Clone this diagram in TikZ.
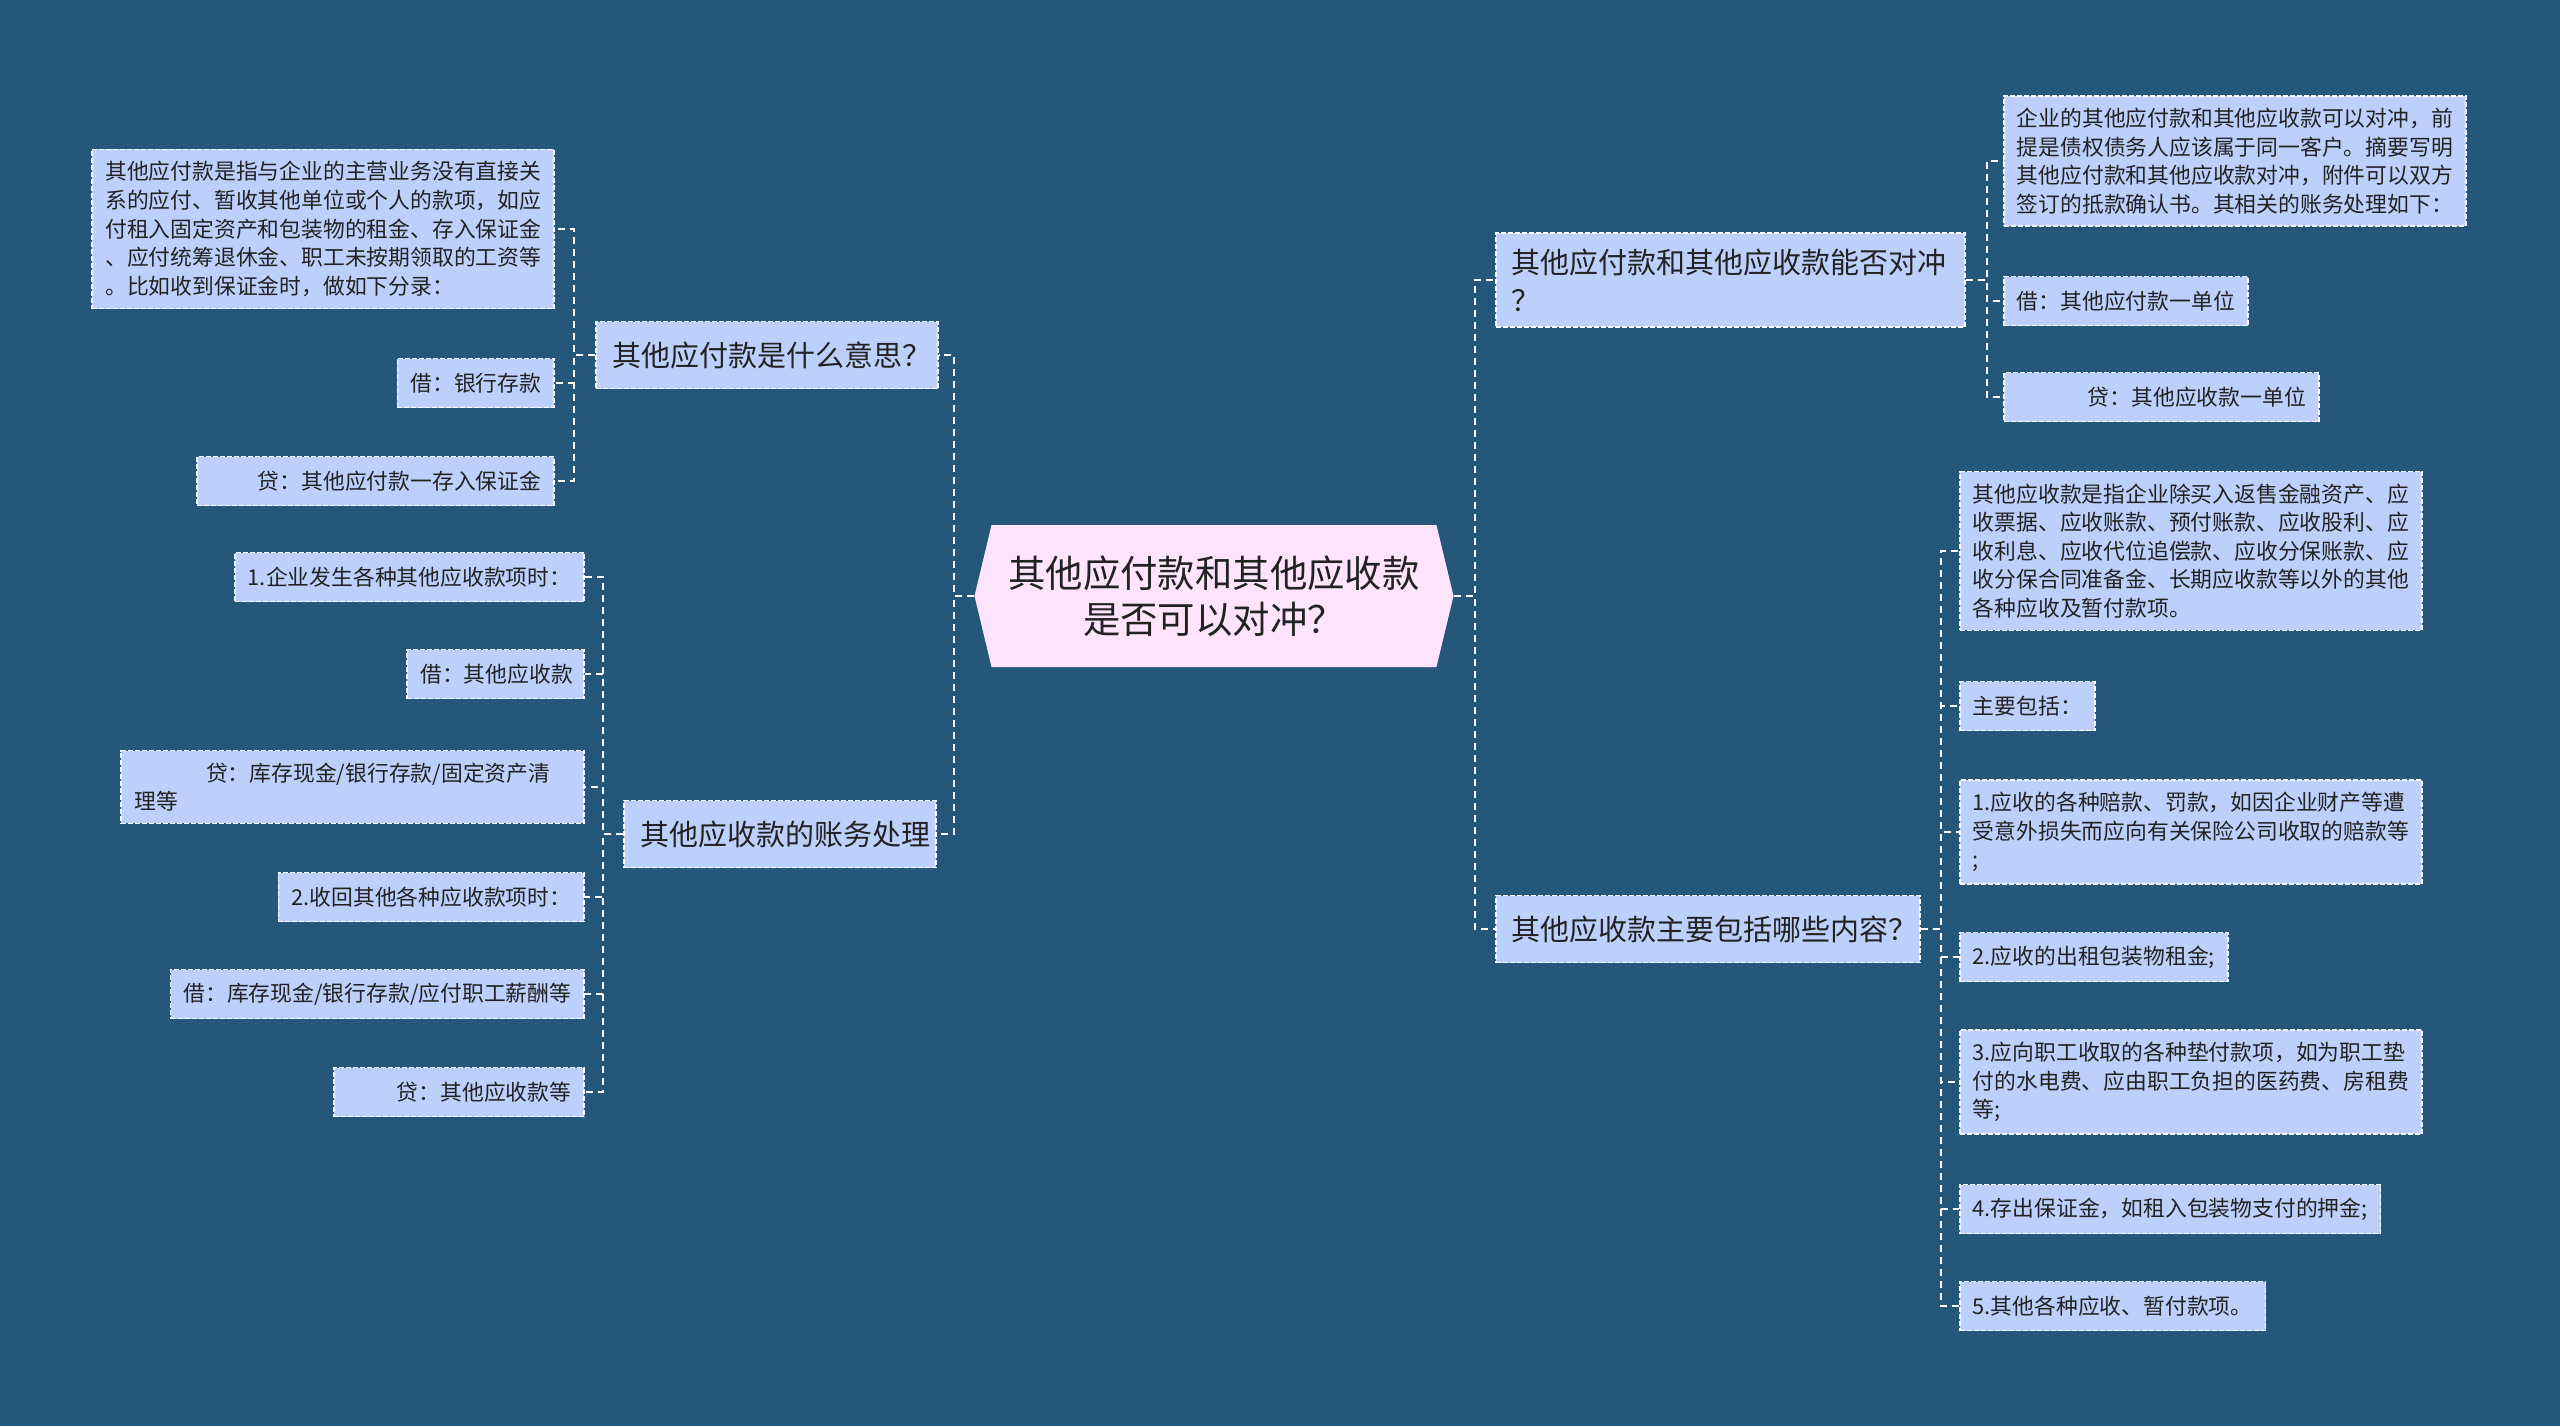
\documentclass[tikz,border=0pt]{standalone}
\usepackage{fontspec}
\setmainfont{Noto Sans CJK SC}
\usetikzlibrary{positioning,shapes.symbols}
\definecolor{bgcolor}{RGB}{36,87,122}
\definecolor{leafcolor}{RGB}{189,208,251}
\definecolor{rootcolor}{RGB}{253,228,252}
\definecolor{inkcolor}{RGB}{34,34,34}

\begin{document}
\begin{tikzpicture}[%
    x=0.5pt, y=-0.5pt,          % one unit is one pixel of the sketch, y runs down
    every node/.style={text=inkcolor},
    ]
\tikzset{
  base/.style={draw=white, line width=0.8pt, dash pattern=on 2.5pt off 1pt, fill=leafcolor, align=left},
  leaf/.style={base, inner xsep=6.5pt, inner ysep=6pt, minimum height=24.5pt, font=\fontsize{10.9}{14.3}\selectfont},
  topic/.style={base, inner xsep=8pt, inner ysep=8pt, minimum height=33.5pt, font=\fontsize{14.5}{18.8}\selectfont},
  root/.style={signal, signal to=west and east, signal pointer angle=153, fill=rootcolor,
    minimum width=239.5pt, minimum height=71pt, inner sep=0pt, align=center, font=\fontsize{18.7}{23}\selectfont},
  link/.style={draw=white, line width=1pt, dash pattern=on 3.5pt off 2.5pt},
}

\fill [bgcolor] (0,0) rectangle (2560,1426);
\useasboundingbox (0,0) rectangle (2560,1426);

\node [root] (c0) at (1214,596) {其他应付款和其他应收款\\是否可以对冲？};

% left side
\node [topic, text width=155pt, anchor=east] (l1) at (939,355) {其他应付款是什么意思？};
\node [leaf, anchor=east] (l1a) at (555,229) {其他应付款是指与企业的主营业务没有直接关\\系的应付、暂收其他单位或个人的款项，如应\\付租入固定资产和包装物的租金、存入保证金\\、应付统筹退休金、职工未按期领取的工资等\\。比如收到保证金时，做如下分录：};
\node [leaf, anchor=east] (l1b) at (555,383) {借：银行存款};
\node [leaf, text width=165.5pt, align=right, anchor=east] (l1c) at (555,481) {贷：其他应付款一存入保证金};

\node [topic, text width=140pt, anchor=east] (l2) at (937,834) {其他应收款的账务处理};
\node [leaf, anchor=east] (l2a) at (585,577) {1.企业发生各种其他应收款项时：};
\node [leaf, text width=75.5pt, align=center, anchor=east] (l2b) at (585,674) {借：其他应收款};
\node [leaf, text width=218.5pt, anchor=east] (l2c) at (585,787) {\hspace*{3.3em}贷：库存现金/银行存款/固定资产清\\理等};
\node [leaf, anchor=east] (l2d) at (585,897) {2.收回其他各种应收款项时：};
\node [leaf, anchor=east] (l2e) at (585,994) {借：库存现金/银行存款/应付职工薪酬等};
\node [leaf, text width=112pt, align=right, anchor=east] (l2f) at (585,1092) {贷：其他应收款等};

% right side
\node [topic, text width=218.5pt, anchor=west] (r1) at (1495,280) {其他应付款和其他应收款能否对冲\\？};
\node [leaf, anchor=west] (r1a) at (2003,161) {企业的其他应付款和其他应收款可以对冲，前\\提是债权债务人应该属于同一客户。摘要写明\\其他应付款和其他应收款对冲，附件可以双方\\签订的抵款确认书。其相关的账务处理如下：};
\node [leaf, anchor=west] (r1b) at (2003,301) {借：其他应付款一单位};
\node [leaf, text width=144.5pt, align=right, anchor=west] (r1c) at (2003,397) {贷：其他应收款一单位};

\node [topic, text width=196pt, anchor=west] (r2) at (1495,929) {其他应收款主要包括哪些内容？};
\node [leaf, anchor=west] (r2a) at (1959,551) {其他应收款是指企业除买入返售金融资产、应\\收票据、应收账款、预付账款、应收股利、应\\收利息、应收代位追偿款、应收分保账款、应\\收分保合同准备金、长期应收款等以外的其他\\各种应收及暂付款项。};
\node [leaf, anchor=west] (r2b) at (1959,706) {主要包括：};
\node [leaf, anchor=west] (r2c) at (1959,832) {1.应收的各种赔款、罚款，如因企业财产等遭\\受意外损失而应向有关保险公司收取的赔款等\\;};
\node [leaf, anchor=west] (r2d) at (1959,957) {2.应收的出租包装物租金;};
\node [leaf, anchor=west] (r2e) at (1959,1082) {3.应向职工收取的各种垫付款项，如为职工垫\\付的水电费、应由职工负担的医药费、房租费\\等;};
\node [leaf, anchor=west] (r2f) at (1959,1209) {4.存出保证金，如租入包装物支付的押金;};
\node [leaf, anchor=west] (r2g) at (1959,1306) {5.其他各种应收、暂付款项。};

\draw [link] (c0.west) -- ++(-20,0) |- (l1.east);
\draw [link] (c0.west) -- ++(-20,0) |- (l2.east);
\draw [link] (c0.east) -- ++(21,0) |- (r1.west);
\draw [link] (c0.east) -- ++(21,0) |- (r2.west);

\draw [link] (l1.west) -- ++(-21,0) |- (l1a.east);
\draw [link] (l1.west) -- ++(-21,0) |- (l1b.east);
\draw [link] (l1.west) -- ++(-21,0) |- (l1c.east);

\draw [link] (l2.west) -- ++(-20,0) |- (l2a.east);
\draw [link] (l2.west) -- ++(-20,0) |- (l2b.east);
\draw [link] (l2.west) -- ++(-20,0) |- (l2c.east);
\draw [link] (l2.west) -- ++(-20,0) |- (l2d.east);
\draw [link] (l2.west) -- ++(-20,0) |- (l2e.east);
\draw [link] (l2.west) -- ++(-20,0) |- (l2f.east);

\draw [link] (r1.east) -- ++(21,0) |- (r1a.west);
\draw [link] (r1.east) -- ++(21,0) |- (r1b.west);
\draw [link] (r1.east) -- ++(21,0) |- (r1c.west);

\draw [link] (r2.east) -- ++(20,0) |- (r2a.west);
\draw [link] (r2.east) -- ++(20,0) |- (r2b.west);
\draw [link] (r2.east) -- ++(20,0) |- (r2c.west);
\draw [link] (r2.east) -- ++(20,0) |- (r2d.west);
\draw [link] (r2.east) -- ++(20,0) |- (r2e.west);
\draw [link] (r2.east) -- ++(20,0) |- (r2f.west);
\draw [link] (r2.east) -- ++(20,0) |- (r2g.west);

\end{tikzpicture}
\end{document}
